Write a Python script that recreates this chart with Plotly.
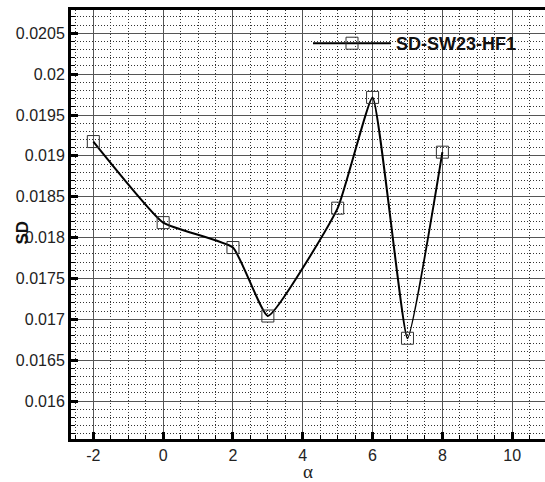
import plotly.graph_objects as go

# Angle of attack and measured values
alpha = [-2, 0, 2, 3, 5, 6, 7, 8]
sd_values = [0.019175, 0.018183, 0.017878, 0.01704, 0.01836, 0.019715, 0.016768, 0.019045]
series_name = "SD-SW23-HF1"

x_tick_vals = [-2, 0, 2, 4, 6, 8, 10]
x_tick_text = ["-2", "0", "2", "4", "6", "8", "10"]
y_tick_vals = [0.016, 0.0165, 0.017, 0.0175, 0.018, 0.0185, 0.019, 0.0195, 0.02, 0.0205]
y_tick_text = ["0.016", "0.0165", "0.017", "0.0175", "0.018", "0.0185", "0.019", "0.0195", "0.02", "0.0205"]

fig = go.Figure()
fig.add_trace(go.Scatter(
    x=alpha, y=sd_values, name=series_name, mode="lines+markers",
    line=dict(color="black", width=2, shape="spline", smoothing=0.4),
    marker=dict(symbol="square-open", size=12, color="#333333", line=dict(width=1)),
))

font_main = "Liberation Sans, Arial, sans-serif"

fig.update_layout(
    width=545, height=482,
    margin=dict(l=71, r=0, t=10, b=43),
    paper_bgcolor="white", plot_bgcolor="white",
    font=dict(family=font_main, size=16, color="#222222"),
    showlegend=True,
    legend=dict(
        x=0.50, y=0.965, xanchor="left", yanchor="top",
        bgcolor="rgba(0,0,0,0)", borderwidth=0,
        font=dict(family=font_main, size=18, color="#111111", weight="bold"),
        itemwidth=78,
    ),
    xaxis=dict(
        range=[-2.64, 10.94],
        tickvals=x_tick_vals, ticktext=x_tick_text,
        ticks="inside", ticklen=7, tickwidth=3, tickcolor="black",
        showline=True, linewidth=3, linecolor="black", mirror=True,
        showgrid=True, gridcolor="#555555", gridwidth=1,
        minor=dict(dtick=0.5, tick0=0, ticks="inside", ticklen=4, tickwidth=1,
                   tickcolor="black", showgrid=True, gridcolor="#333333",
                   griddash="1px,2px", gridwidth=1),
        zeroline=False,
        title=dict(text="α", font=dict(family="Liberation Serif, Times New Roman, serif", size=19), standoff=5),
        tickfont=dict(size=16),
    ),
    yaxis=dict(
        range=[0.015535, 0.020785],
        tickvals=y_tick_vals, ticktext=y_tick_text,
        ticks="inside", ticklen=7, tickwidth=3, tickcolor="black",
        showline=True, linewidth=3, linecolor="black", mirror=False,
        showgrid=True, gridcolor="#555555", gridwidth=1,
        minor=dict(dtick=0.0001, tick0=0, ticks="inside", ticklen=4, tickwidth=1,
                   tickcolor="black", showgrid=True, gridcolor="#333333",
                   griddash="1px,2px", gridwidth=1),
        zeroline=False,
        tickfont=dict(size=16),
    ),
)

fig.add_annotation(
    text="<b>SD</b>", textangle=-90, xref="paper", yref="paper",
    x=0, y=0.48, xshift=-60, showarrow=False,
    font=dict(family=font_main, size=17, color="#111111"),
)

fig.write_html("out.html")
